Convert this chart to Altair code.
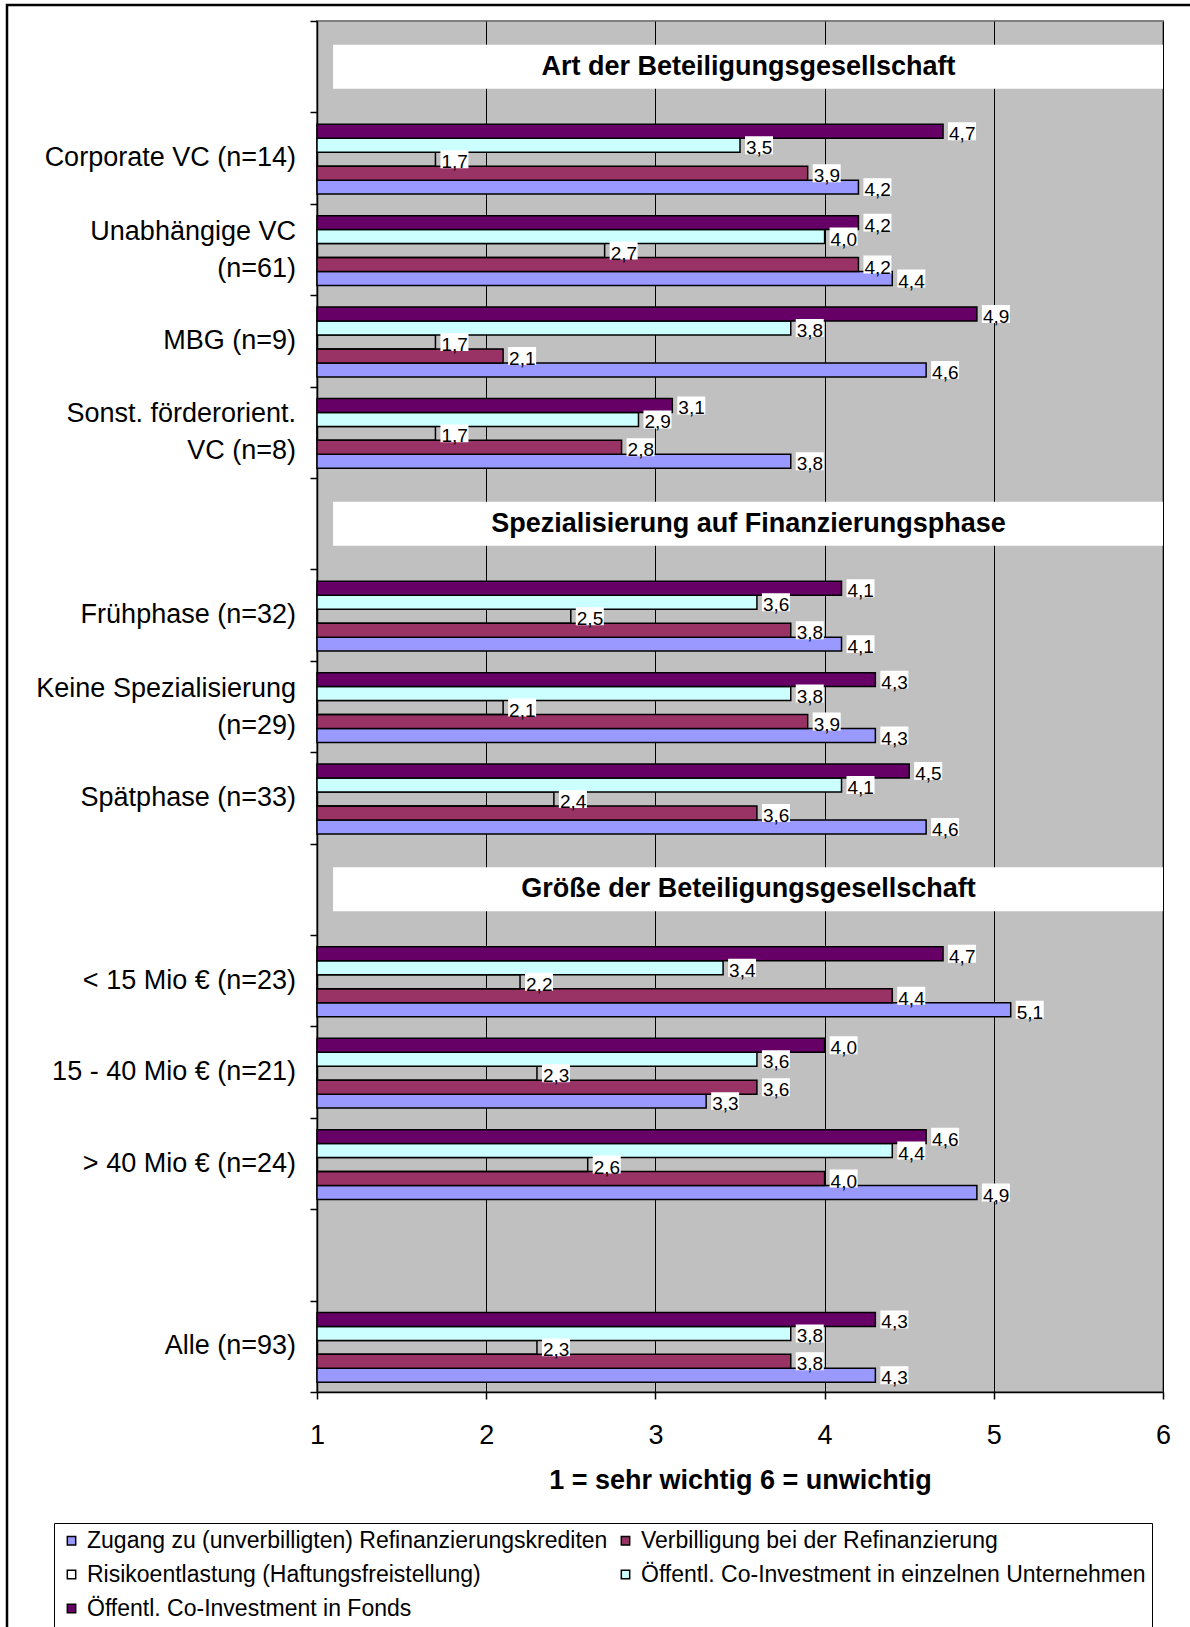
import altair as alt
import pandas as pd

FONT = "Liberation Sans"

# Row order of the y axis, top to bottom. Whitespace-only keys are the slots
# that carry a section header (or stay empty); "|" breaks a label into lines.
rows = [
    " ",
    "Corporate VC (n=14)",
    "Unabhängige VC|(n=61)",
    "MBG (n=9)",
    "Sonst. förderorient.|VC (n=8)",
    "  ",
    "Frühphase (n=32)",
    "Keine Spezialisierung|(n=29)",
    "Spätphase (n=33)",
    "   ",
    "< 15 Mio € (n=23)",
    "15 - 40 Mio € (n=21)",
    "> 40 Mio € (n=24)",
    "    ",
    "Alle (n=93)",
]

groups = [
    "Corporate VC (n=14)",
    "Unabhängige VC|(n=61)",
    "MBG (n=9)",
    "Sonst. förderorient.|VC (n=8)",
    "Frühphase (n=32)",
    "Keine Spezialisierung|(n=29)",
    "Spätphase (n=33)",
    "< 15 Mio € (n=23)",
    "15 - 40 Mio € (n=21)",
    "> 40 Mio € (n=24)",
    "Alle (n=93)",
]

header_rows = [" ", "  ", "   "]
header_titles = [
    "Art der Beteiligungsgesellschaft",
    "Spezialisierung auf Finanzierungsphase",
    "Größe der Beteiligungsgesellschaft",
]

series = [
    "Zugang zu (unverbilligten) Refinanzierungskrediten",
    "Verbilligung bei der Refinanzierung",
    "Risikoentlastung (Haftungsfreistellung)",
    "Öffentl. Co-Investment in einzelnen Unternehmen",
    "Öffentl. Co-Investment in Fonds",
]
series_colors = ["#9999FF", "#993366", "#FFFFFF", "#CCFFFF", "#660066"]

# Legend entries fill column by column: left column first, then right column
legend_order = [0, 2, 4, 1, 3]

# Mean ratings (1 = sehr wichtig, 6 = unwichtig), one value per group
zugang = [4.2, 4.4, 4.6, 3.8, 4.1, 4.3, 4.6, 5.1, 3.3, 4.9, 4.3]
verbilligung = [3.9, 4.2, 2.1, 2.8, 3.8, 3.9, 3.6, 4.4, 3.6, 4.0, 3.8]
risiko = [1.7, 2.7, 1.7, 1.7, 2.5, 2.1, 2.4, 2.2, 2.3, 2.6, 2.3]
co_einzeln = [3.5, 4.0, 3.8, 2.9, 3.6, 3.8, 4.1, 3.4, 3.6, 4.4, 3.8]
co_fonds = [4.7, 4.2, 4.9, 3.1, 4.1, 4.3, 4.5, 4.7, 4.0, 4.6, 4.3]

values_by_series = [zugang, verbilligung, risiko, co_einzeln, co_fonds]

records = []
for s, vals in zip(series, values_by_series):
    for g, v in zip(groups, vals):
        records.append({"row": g, "series": s, "value": v})
df = pd.DataFrame(records)

hdf = pd.DataFrame({"row": header_rows, "title": header_titles})
gdf = pd.DataFrame({"row": groups})

y_scale = alt.Scale(domain=rows, paddingInner=0, paddingOuter=0)
y_axis = alt.Axis(
    title=None,
    labels=False,
    tickBand="extent",
    tickSize=7,
    tickWidth=1.5,
    tickColor="black",
    domainColor="black",
    domainWidth=1.5,
    grid=False,
)
y_enc = alt.Y("row:N", scale=y_scale, axis=y_axis)

yoff_enc = alt.YOffset(
    "series:N",
    scale=alt.Scale(
        domain=list(reversed(series)), paddingInner=0, paddingOuter=0.77, align=0.55
    ),
)

x_scale = alt.Scale(domain=[1, 6], zero=False, nice=False)
x_axis = alt.Axis(
    values=[1, 2, 3, 4, 5, 6],
    format="d",
    grid=True,
    gridColor="black",
    gridWidth=1,
    domainColor="black",
    domainWidth=1.5,
    tickColor="black",
    tickWidth=1.5,
    tickSize=7,
    labelFont=FONT,
    labelFontSize=27,
    labelColor="black",
    labelPadding=23,
    labelFlush=False,
    title="1 = sehr wichtig 6 = unwichtig",
    titleFont=FONT,
    titleFontSize=27,
    titleFontWeight="bold",
    titleColor="black",
    titlePadding=19,
)

legend = alt.Legend(
    title=None,
    orient="none",
    legendX=-263,
    legendY=1502,
    columns=2,
    labelFont=FONT,
    labelFontSize=23,
    labelColor="black",
    labelLimit=800,
    labelOffset=4,
    symbolType="square",
    symbolSize=70,
    symbolStrokeColor="black",
    symbolStrokeWidth=1.5,
    strokeColor="black",
    fillColor="white",
    padding=6,
    rowPadding=10,
    columnPadding=6,
)

# Outer frame around the whole figure
frame = alt.Chart(alt.Data(values=[{}])).mark_rect(
    fill="transparent", stroke="black", strokeWidth=2.5
).encode(
    x=alt.value(-310), x2=alt.value(900), y=alt.value(-16), y2=alt.value(1650)
)

# Category labels left of the axis; two-line labels are lifted to sit centred
x_left = alt.X(datum=1, type="quantitative", scale=x_scale)
cat_one_line = alt.Chart(gdf).transform_filter(
    "indexof(datum.row, '|') < 0"
).mark_text(
    align="right", baseline="middle", dx=-21, font=FONT, fontSize=27, color="black"
).encode(x=x_left, y=y_enc, text="row:N")
cat_two_lines = alt.Chart(gdf).transform_filter(
    "indexof(datum.row, '|') >= 0"
).mark_text(
    align="right", baseline="middle", dx=-21, dy=-18, lineBreak="|", lineHeight=37,
    font=FONT, fontSize=27, color="black",
).encode(x=x_left, y=y_enc, text="row:N")

# White section header boxes with bold titles
hdr_box = alt.Chart(hdf).mark_bar(fill="white", height=44).encode(
    x=alt.X(datum=1.095, type="quantitative", scale=x_scale),
    x2=alt.datum(6),
    y=y_enc,
)
hdr_text = alt.Chart(hdf).mark_text(
    font=FONT, fontSize=27, fontWeight="bold", color="black"
).encode(
    x=alt.X(datum=3.55, type="quantitative", scale=x_scale),
    y=y_enc,
    text="title:N",
)

risk_test = "datum.series === '" + series[2] + "'"

bars = alt.Chart(df).mark_bar(stroke="black", strokeWidth=1.5).encode(
    x=alt.X("value:Q", scale=x_scale, axis=x_axis),
    x2=alt.datum(1),
    y=y_enc,
    yOffset=yoff_enc,
    fill=alt.condition(
        risk_test,
        alt.value("transparent"),
        alt.Fill(
            "series:N",
            scale=alt.Scale(
                domain=[series[i] for i in legend_order],
                range=[series_colors[i] for i in legend_order],
            ),
            legend=legend,
        ),
    ),
)

label_base = alt.Chart(df).transform_calculate(
    label="replace(format(datum.value, '.1f'), '.', ',')"
)

# White backgrounds behind the value labels (a thick white outline widens them)
label_boxes = label_base.mark_bar(
    fill="white", stroke="white", strokeWidth=4, yOffset=3, xOffset=7, x2Offset=31
).encode(
    x=alt.X("value:Q", scale=x_scale),
    x2="value:Q",
    y=y_enc,
    yOffset=yoff_enc,
)

labels = label_base.mark_text(
    align="left", baseline="middle", dx=6, dy=3, font=FONT, fontSize=19, color="black"
).encode(
    x=alt.X("value:Q", scale=x_scale),
    y=y_enc,
    yOffset=yoff_enc,
    text="label:N",
)

chart = (
    alt.layer(
        frame, cat_one_line, cat_two_lines, hdr_box, hdr_text, bars, label_boxes, labels
    )
    .properties(
        width=846,
        height=1371,
        padding={"left": 317, "top": 21, "right": 27, "bottom": 235},
        autosize=alt.AutoSizeParams(type="none"),
        background="white",
    )
    .configure(font=FONT)
    .configure_view(fill="#C0C0C0", stroke="#808080", strokeWidth=2)
)

chart.save("out.html", embed_options={"renderer": "svg", "actions": False})
